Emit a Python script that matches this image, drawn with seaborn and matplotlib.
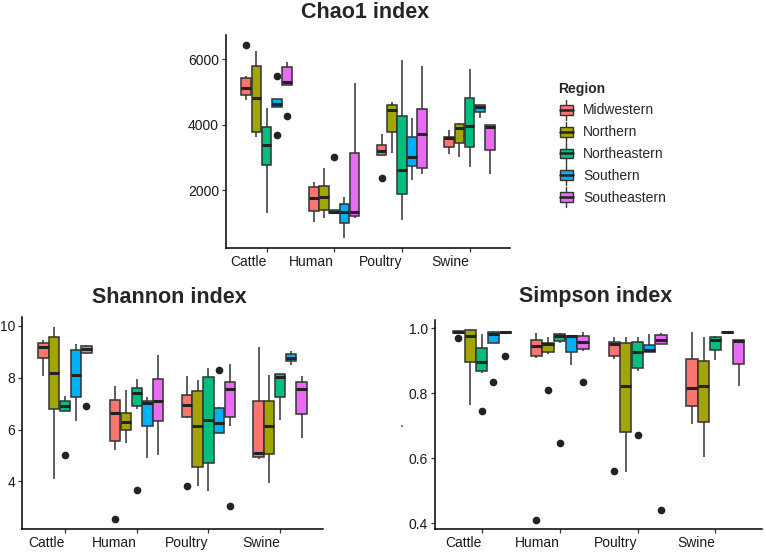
import numpy as np
import pandas as pd
import matplotlib
matplotlib.use("Agg")
import matplotlib.pyplot as plt
import seaborn as sns
from matplotlib.patches import Patch, Rectangle
from matplotlib.lines import Line2D
from matplotlib.legend_handler import HandlerBase

# categories
hosts = ["Cattle", "Human", "Poultry", "Swine"]
regions = ["Midwestern", "Northern", "Northeastern", "Southern", "Southeastern"]
colors = ["#F8766D", "#A3A500", "#00BF7D", "#00B0F6", "#E76BF3"]

# box summaries: [low whisker, q1, median, q3, high whisker]
# rows go host by host (Cattle, Human, Poultry, Swine), regions in the order above
chao1_box = [
    [4755, 4908, 5133, 5418, 5480],
    [3633, 3786, 4827, 5806, 6265],
    [1287, 2777, 3368, 3919, 4500],
    [4531, 4531, 4633, 4786, 4800],
    [5200, 5200, 5317, 5776, 5929],
    [1012, 1359, 1747, 2083, 2257],
    [1135, 1390, 1777, 2124, 2665],
    [1288, 1288, 1339, 1390, 1400],
    [522, 1002, 1339, 1573, 1798],
    [1135, 1216, 1318, 3124, 5266],
    [3073, 3073, 3205, 3379, 3715],
    [3144, 3766, 4450, 4603, 4705],
    [1084, 1869, 2614, 4266, 5980],
    [2308, 2736, 3001, 3613, 4195],
    [2481, 2685, 3705, 4470, 5796],
    [3093, 3328, 3593, 3634, 3838],
    [3022, 3450, 3909, 4021, 4050],
    [2716, 3328, 3960, 4827, 5694],
    [4195, 4399, 4531, 4603, 4603],
    [2491, 3226, 3937, 3990, 4000],
]
chao1_out = [
    ("Cattle", "Midwestern", 6449),
    ("Cattle", "Southern", 5500),
    ("Cattle", "Southern", 3684),
    ("Cattle", "Southeastern", 4270),
    ("Human", "Northeastern", 3021),
    ("Poultry", "Midwestern", 2359),
]

shannon_box = [
    [8.07, 8.75, 9.17, 9.33, 9.43],
    [4.09, 6.78, 8.19, 9.58, 9.96],
    [6.73, 6.73, 6.89, 7.08, 7.29],
    [6.31, 7.27, 8.09, 9.05, 9.30],
    [8.94, 8.94, 9.11, 9.21, 9.24],
    [5.23, 5.55, 6.63, 7.14, 7.67],
    [5.49, 6.00, 6.28, 6.63, 7.52],
    [6.80, 6.91, 7.39, 7.58, 7.93],
    [4.92, 6.15, 7.02, 7.08, 7.27],
    [5.00, 6.31, 7.08, 7.94, 8.86],
    [6.44, 6.50, 6.95, 7.33, 8.07],
    [3.81, 4.56, 6.15, 7.50, 7.90],
    [3.62, 4.72, 6.38, 8.03, 8.37],
    [5.87, 5.87, 6.25, 6.82, 6.85],
    [6.12, 6.48, 7.56, 7.84, 8.54],
    [4.85, 4.95, 5.11, 7.10, 9.17],
    [3.96, 5.04, 6.15, 7.10, 8.09],
    [6.38, 7.24, 8.03, 8.13, 8.13],
    [8.47, 8.63, 8.77, 8.89, 9.02],
    [5.68, 6.61, 7.56, 7.81, 8.07],
]
shannon_out = [
    ("Cattle", "Northeastern", 5.02),
    ("Cattle", "Southeastern", 6.89),
    ("Human", "Midwestern", 2.54),
    ("Human", "Northeastern", 3.68),
    ("Poultry", "Midwestern", 3.83),
    ("Poultry", "Southern", 8.30),
    ("Poultry", "Southeastern", 3.05),
]

simpson_box = [
    [0.985, 0.985, 0.989, 0.992, 0.993],
    [0.763, 0.897, 0.977, 0.994, 0.997],
    [0.862, 0.868, 0.895, 0.939, 0.982],
    [0.954, 0.956, 0.982, 0.990, 0.992],
    [0.984, 0.984, 0.987, 0.990, 0.991],
    [0.908, 0.916, 0.946, 0.964, 0.984],
    [0.921, 0.926, 0.953, 0.956, 0.974],
    [0.956, 0.961, 0.977, 0.982, 0.985],
    [0.887, 0.928, 0.975, 0.975, 0.979],
    [0.931, 0.936, 0.958, 0.977, 0.989],
    [0.905, 0.916, 0.953, 0.958, 0.972],
    [0.557, 0.682, 0.824, 0.954, 0.972],
    [0.870, 0.878, 0.926, 0.958, 0.974],
    [0.926, 0.926, 0.933, 0.950, 0.982],
    [0.953, 0.953, 0.963, 0.980, 0.984],
    [0.707, 0.761, 0.817, 0.905, 0.990],
    [0.605, 0.712, 0.824, 0.900, 0.974],
    [0.903, 0.934, 0.964, 0.972, 0.975],
    [0.985, 0.986, 0.987, 0.989, 0.990],
    [0.824, 0.890, 0.961, 0.964, 0.965],
]
simpson_out = [
    ("Cattle", "Midwestern", 0.969),
    ("Cattle", "Northeastern", 0.746),
    ("Cattle", "Southern", 0.836),
    ("Cattle", "Southeastern", 0.916),
    ("Human", "Midwestern", 0.412),
    ("Human", "Northern", 0.809),
    ("Human", "Northeastern", 0.646),
    ("Human", "Southeastern", 0.834),
    ("Poultry", "Midwestern", 0.562),
    ("Poultry", "Northeastern", 0.671),
    ("Poultry", "Southeastern", 0.441),
]


def long_table(box, out):
    # expand each summary into sample values whose quartiles land on q1/median/q3
    rows = []
    for i, (lo, q1, md, q3, hi) in enumerate(box):
        host = hosts[i // 5]
        region = regions[i % 5]
        vals = [lo] + [q1] * 5 + [md] * 5 + [q3] * 5 + [hi]
        for v in vals:
            rows.append((host, region, v))
    for host, region, v in out:
        rows.append((host, region, v))
    return pd.DataFrame(rows, columns=["host", "region", "value"])


class BoxKey(HandlerBase):
    # ggplot-like legend key: box with median line and whiskers
    def create_artists(self, legend, orig_handle, xdescent, ydescent,
                       width, height, fontsize, trans):
        cx = width / 2 - xdescent
        w = width * 0.8
        h = height * 0.62
        x0 = cx - w / 2
        y0 = (height - h) / 2 - ydescent
        whisk = Line2D([cx, cx], [-ydescent - 1.5, height - ydescent + 1.5],
                       color="#333333", lw=1, transform=trans)
        rect = Rectangle((x0, y0), w, h, facecolor=orig_handle.get_facecolor(),
                         edgecolor="#333333", lw=1, transform=trans)
        med = Line2D([x0, x0 + w], [y0 + h / 2, y0 + h / 2],
                     color="#222222", lw=1.8, transform=trans)
        return [whisk, rect, med]


sns.set_style("ticks")
plt.rcParams["font.family"] = ["Liberation Sans", "DejaVu Sans"]

fig = plt.figure(figsize=(7.66, 5.55), dpi=100)
ax_c = fig.add_axes([0.295, 0.553, 0.371, 0.384])
ax_sh = fig.add_axes([0.0287, 0.0468, 0.393, 0.382])
ax_si = fig.add_axes([0.568, 0.0468, 0.427, 0.377])


def draw(ax, box, out, title, ylim, yticks, ylabels, pad):
    df = long_table(box, out)
    sns.boxplot(data=df, x="host", y="value", hue="region", order=hosts,
                hue_order=regions, palette=colors, saturation=1, width=0.75,
                gap=0.04, linecolor="#333333", linewidth=1.1, fliersize=4.5,
                showcaps=False,
                flierprops=dict(marker="o", markerfacecolor="#222222",
                                markeredgecolor="#222222"),
                medianprops=dict(color="#222222", linewidth=2.2),
                legend=False, ax=ax)
    ax.set_xlim(-0.6, 3.6)
    ax.set_ylim(*ylim)
    ax.set_yticks(yticks)
    ax.set_yticklabels(ylabels)
    ax.set_xlabel("")
    ax.set_ylabel("")
    ax.set_title(title, fontsize=15.5, fontweight="bold", pad=pad, x=0.49)
    for side in ["top", "right"]:
        ax.spines[side].set_visible(False)
    for side in ["left", "bottom"]:
        ax.spines[side].set_color("black")
        ax.spines[side].set_linewidth(1.1)
    ax.tick_params(axis="both", length=3, width=0.9, color="#333333",
                   labelsize=10, labelcolor="#1a1a1a", pad=2)
    for lab in ax.get_xticklabels():
        lab.set_ha("right")


draw(ax_c, chao1_box, chao1_out, "Chao1 index", (226, 6745),
     [2000, 4000, 6000], ["2000", "4000", "6000"], 12)
draw(ax_sh, shannon_box, shannon_out, "Shannon index", (2.17, 10.33),
     [4, 6, 8, 10], ["4", "6", "8", "10"], 10)
draw(ax_si, simpson_box, simpson_out, "Simpson index", (0.383, 1.026),
     [0.4, 0.6, 0.8, 1.0], ["0.4", "0.6", "0.8", "1.0"], 13)
ax_si.set_ylabel(".", fontsize=10, labelpad=2)

handles = [Patch(facecolor=c) for c in colors]
fig.legend(handles, regions, title="Region", loc="upper left",
           bbox_to_anchor=(0.712, 0.875), frameon=False, fontsize=10,
           title_fontproperties={"weight": "bold", "size": 10},
           handler_map={Patch: BoxKey()}, handlelength=1.2, handleheight=1.4,
           labelspacing=0.42, handletextpad=0.6, alignment="left")

fig.savefig("out.png", dpi=100)
